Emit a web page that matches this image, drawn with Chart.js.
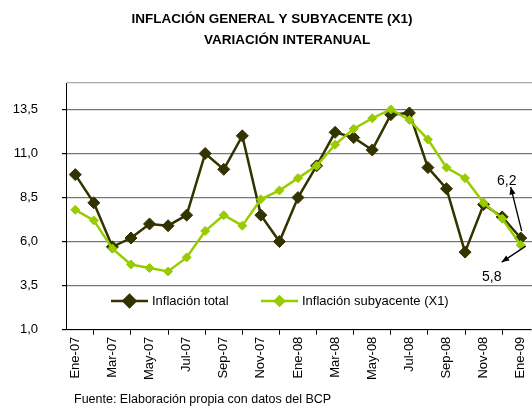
<!DOCTYPE html>
<html>
<head>
<meta charset="utf-8">
<script src="https://cdn.jsdelivr.net/npm/chart.js@4"></script>
<style>
  body { margin: 0; background: #fff; }
  canvas { display: block; }
</style>
</head>
<body>
<canvas id="myChart" width="532" height="409"></canvas>
<script>
const months = ['Ene-07','Feb-07','Mar-07','Abr-07','May-07','Jun-07','Jul-07','Ago-07','Sep-07','Oct-07','Nov-07','Dic-07',
                'Ene-08','Feb-08','Mar-08','Abr-08','May-08','Jun-08','Jul-08','Ago-08','Sep-08','Oct-08','Nov-08','Dic-08','Ene-09'];
const inflacionTotal = [9.8, 8.2, 5.7, 6.2, 7.0, 6.9, 7.5, 11.0, 10.1, 12.0, 7.5, 6.0,
                        8.5, 10.3, 12.2, 11.9, 11.2, 13.2, 13.3, 10.2, 9.0, 5.4, 8.1, 7.4, 6.2];
const inflacionSub = [7.8, 7.2, 5.6, 4.7, 4.5, 4.3, 5.1, 6.6, 7.5, 6.9, 8.4, 8.9,
                      9.6, 10.3, 11.5, 12.4, 13.0, 13.5, 12.9, 11.8, 10.2, 9.6, 8.2, 7.3, 5.8];
const yTicks = [1, 3.5, 6, 8.5, 11, 13.5, 15];
const titleLines = ['INFLACIÓN GENERAL Y SUBYACENTE (X1)', 'VARIACIÓN INTERANUAL'];
const fuente = 'Fuente: Elaboración propia con datos del BCP';

const FONT = '"Liberation Sans", Arial, sans-serif';
const DARK = '#333300';
const GREEN = '#99cc00';

const fmt = v => v.toFixed(1).replace('.', ',');

function arrow(ctx, x1, y1, x2, y2) {
    // line from (x1,y1) to (x2,y2) with head at the end
    const a = Math.atan2(y2 - y1, x2 - x1);
    ctx.beginPath();
    ctx.moveTo(x1, y1);
    ctx.lineTo(x2, y2);
    ctx.stroke();
    ctx.beginPath();
    ctx.moveTo(x2, y2);
    ctx.lineTo(x2 - 8 * Math.cos(a - 0.4), y2 - 8 * Math.sin(a - 0.4));
    ctx.lineTo(x2 - 8 * Math.cos(a + 0.4), y2 - 8 * Math.sin(a + 0.4));
    ctx.closePath();
    ctx.fill();
}

const extras = {
    id: 'extras',
    afterLayout(chart) {
        // plot area runs to the right edge of the picture
        const x = chart.scales.x;
        x.right = 530;
        x.width = x.right - x.left;
        x.configure();
        chart.chartArea.right = 532;
        chart.chartArea.width = 532 - chart.chartArea.left;
    },
    afterDraw(chart) {
        const ctx = chart.ctx;
        ctx.save();
        // title
        ctx.fillStyle = '#000';
        ctx.font = 'bold 13.5px ' + FONT;
        ctx.textAlign = 'center';
        ctx.textBaseline = 'middle';
        ctx.fillText(titleLines[0], 272, 19);
        ctx.fillText(titleLines[1], 287, 40);

        // source
        ctx.font = '12.5px ' + FONT;
        ctx.textAlign = 'left';
        ctx.fillText(fuente, 74, 400);

        // legend inside plot
        const ly = 301;
        const items = [
            {x: 111, color: DARK, r: 6, text: 'Inflación total'},
            {x: 261, color: GREEN, r: 4.5, text: 'Inflación subyacente (X1)'}
        ];
        ctx.font = '13px ' + FONT;
        for (const it of items) {
            ctx.strokeStyle = it.color;
            ctx.fillStyle = it.color;
            ctx.lineWidth = 2.5;
            ctx.beginPath();
            ctx.moveTo(it.x, ly);
            ctx.lineTo(it.x + 37, ly);
            ctx.stroke();
            Chart.helpers.drawPoint(ctx, {pointStyle: 'rectRot', radius: it.r, borderWidth: 1}, it.x + 18.5, ly);
            ctx.fillStyle = '#000';
            ctx.fillText(it.text, it.x + 41, ly);
        }

        // annotations on the last points
        const pT = chart.getDatasetMeta(1).data[inflacionTotal.length - 1];
        const pS = chart.getDatasetMeta(0).data[inflacionSub.length - 1];
        ctx.strokeStyle = '#000';
        ctx.fillStyle = '#000';
        ctx.lineWidth = 1.3;
        arrow(ctx, pT.x + 1, pT.y - 7, pT.x - 10, pT.y - 51);
        arrow(ctx, pS.x + 5, pS.y + 1, pS.x - 19, pS.y + 17);
        ctx.font = '14px ' + FONT;
        ctx.textAlign = 'center';
        ctx.fillText(fmt(inflacionTotal[inflacionTotal.length - 1]), pT.x - 14, pT.y - 57);
        ctx.fillText(fmt(inflacionSub[inflacionSub.length - 1]), pS.x - 29, pS.y + 32);
        ctx.restore();
    }
};

const chart = new Chart(document.getElementById('myChart'), {
    type: 'line',
    data: {
        labels: months,
        datasets: [
            {
                label: 'Inflación subyacente (X1)',
                data: inflacionSub,
                borderColor: GREEN,
                backgroundColor: GREEN,
                borderWidth: 2.5,
                pointStyle: 'rectRot',
                pointRadius: 4.5,
                pointBorderWidth: 1,
                tension: 0,
                order: 1
            },
            {
                label: 'Inflación total',
                data: inflacionTotal,
                borderColor: DARK,
                backgroundColor: DARK,
                borderWidth: 2.5,
                pointStyle: 'rectRot',
                pointRadius: 6,
                pointBorderWidth: 1,
                tension: 0,
                order: 2
            }
        ]
    },
    options: {
        responsive: false,
        animation: false,
        layout: {
            padding: {top: 83, left: 10, right: 0, bottom: 27}
        },
        plugins: {
            legend: {display: false},
            tooltip: {enabled: false}
        },
        scales: {
            x: {
                offset: true,
                grid: {
                    offset: true,
                    drawOnChartArea: false,
                    tickLength: 5,
                    tickColor: '#000'
                },
                border: {color: '#000', width: 1},
                ticks: {
                    autoSkip: false,
                    maxRotation: 90,
                    minRotation: 90,
                    padding: 2,
                    color: '#000',
                    font: {family: FONT, size: 13},
                    callback: (v, i) => (i % 2 === 0 ? months[i] : null)
                }
            },
            y: {
                min: 1,
                max: 15,
                afterBuildTicks: s => { s.ticks = yTicks.map(v => ({value: v})); },
                afterFit: s => { s.width = 56; },
                ticks: {
                    padding: 24,
                    color: '#000',
                    font: {family: FONT, size: 13},
                    callback: v => (v === 15 ? '' : fmt(v))
                },
                grid: {
                    color: c => (c.tick && c.tick.value === 15 ? '#a8a8a8' : '#777'),
                    tickColor: c => (c.tick && c.tick.value === 15 ? 'rgba(0,0,0,0)' : '#000'),
                    tickLength: 4,
                    lineWidth: 1.2
                },
                border: {color: '#000', width: 1}
            }
        }
    },
    plugins: [extras]
});
</script>
</body>
</html>
